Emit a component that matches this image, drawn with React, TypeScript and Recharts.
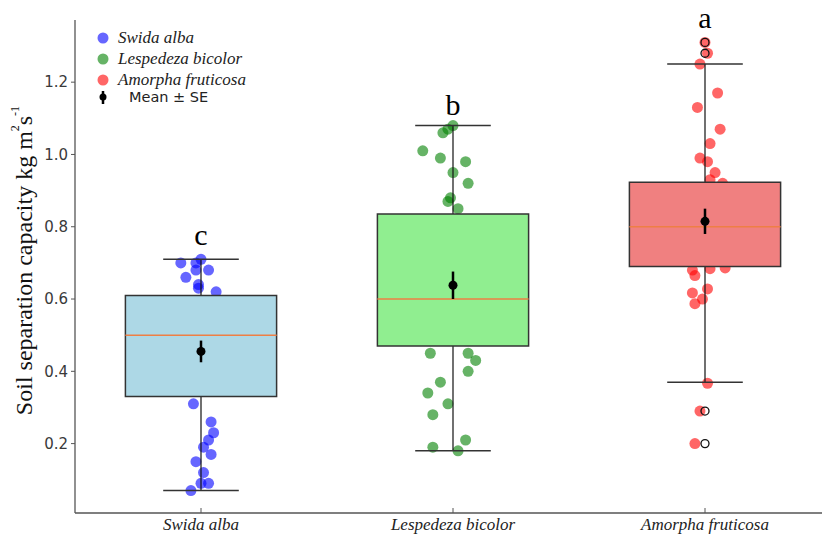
import React from "react"
import {
  ComposedChart,
  Scatter,
  XAxis,
  YAxis,
  ReferenceArea,
  ReferenceLine,
  ErrorBar,
  Legend,
} from "recharts"

const categories = ["Swida alba", "Lespedeza bicolor", "Amorpha fruticosa"]
const yTicks = [0.2, 0.4, 0.6, 0.8, 1.0, 1.2]

// box statistics per species
const q1 = [0.33, 0.47, 0.69]
const medians = [0.5, 0.6, 0.8]
const q3 = [0.61, 0.835, 0.923]
const whiskerLow = [0.07, 0.18, 0.37]
const whiskerHigh = [0.71, 1.08, 1.25]
const means = [0.455, 0.638, 0.815]
const meanSE = [0.03, 0.038, 0.035]
const letters = ["c", "b", "a"]
const letterY = [0.75, 1.11, 1.35]

// jittered observations [x position, value]
const swidaPts = [
  [0.92, 0.7], [1.0, 0.71], [0.98, 0.7], [0.98, 0.68], [1.03, 0.68], [0.94, 0.66],
  [0.99, 0.64], [0.99, 0.63], [1.06, 0.62], [0.97, 0.31], [1.04, 0.26], [1.05, 0.23],
  [1.03, 0.21], [1.01, 0.19], [1.04, 0.17], [0.98, 0.15], [1.01, 0.12], [1.0, 0.09],
  [1.03, 0.09], [0.96, 0.07],
]
const lespedezaPts = [
  [2.0, 1.08], [1.98, 1.07], [1.96, 1.06], [1.88, 1.01], [1.95, 0.99], [2.05, 0.98],
  [2.0, 0.95], [2.06, 0.92], [1.99, 0.88], [1.98, 0.87], [2.02, 0.85], [1.91, 0.45],
  [2.06, 0.45], [2.09, 0.43], [2.06, 0.4], [1.95, 0.37], [1.9, 0.34], [1.98, 0.31],
  [1.92, 0.28], [2.05, 0.21], [1.92, 0.19], [2.02, 0.18],
]
const amorphaPts = [
  [3.0, 1.31], [3.01, 1.28], [2.98, 1.25], [3.05, 1.17], [2.97, 1.13], [3.06, 1.07],
  [3.02, 1.03], [2.98, 0.99], [3.01, 0.98], [3.04, 0.95], [3.02, 0.93], [3.07, 0.92],
  [2.95, 0.68], [2.96, 0.665], [3.02, 0.684], [3.08, 0.686], [2.95, 0.617], [3.01, 0.628],
  [2.99, 0.6], [2.96, 0.587], [3.01, 0.367], [2.98, 0.29], [2.96, 0.2],
]
const amorphaOutliers = [1.31, 1.28, 0.29, 0.2]

const pointColors = ["#0000ff", "#008000", "#ff0000"]
const legendColors = ["#6666ff", "#66b366", "#ff6666"]
const boxColors = ["#add8e6", "#90ee90", "#f08080"]

const toPts = (arr: number[][]) => arr.map(([x, y]) => ({ x, y }))
const meanData = means.map((m, i) => ({ x: i + 1, y: m, se: meanSE[i] }))
const outlierData = amorphaOutliers.map((y) => ({ x: 3, y }))
const letterData = letters.map((l, i) => ({ x: i + 1, y: letterY[i], label: l }))

const dot = (color: string) => (p: any) => (
  <circle cx={p.cx} cy={p.cy} r={5.5} fill={color} fillOpacity={0.6} />
)

function XTick(props: any) {
  const { x, y, payload } = props
  return (
    <g>
      <line x1={x} x2={x} y1={y} y2={y - 5} stroke="#555" strokeWidth={1} />
      <text
        x={x}
        y={y + 17}
        textAnchor="middle"
        fontFamily="Liberation Serif"
        fontStyle="italic"
        fontSize={17}
        fill="#222"
      >
        {categories[payload.value - 1]}
      </text>
    </g>
  )
}

function YLabel(props: any) {
  const { viewBox } = props
  const cx = viewBox.x + 24
  const cy = viewBox.y + viewBox.height / 2 - 6
  return (
    <text
      x={cx}
      y={cy}
      transform={`rotate(-90 ${cx} ${cy})`}
      textAnchor="middle"
      dominantBaseline="central"
      fontFamily="Liberation Serif"
      fontSize={24}
      fill="#111"
    >
      Soil separation capacity kg m
      <tspan fontSize={12} dy={-9}>2</tspan>
      <tspan dy={9}>s</tspan>
      <tspan fontSize={12} dy={-9}>-1</tspan>
    </text>
  )
}

function LegendBox() {
  return (
    <svg width={200} height={85}>
      {categories.map((c, i) => (
        <g key={c}>
          <circle cx={8} cy={10 + i * 21} r={5.5} fill={legendColors[i]} />
          <text
            x={23}
            y={15 + i * 21}
            fontFamily="Liberation Serif"
            fontStyle="italic"
            fontSize={17}
            fill="#222"
          >
            {c}
          </text>
        </g>
      ))}
      <line x1={8} x2={8} y1={63} y2={76} stroke="#000" strokeWidth={2.5} />
      <circle cx={8} cy={69} r={3.5} fill="#000" />
      <text x={34} y={74} fontFamily="DejaVu Sans" fontSize={14.5} fill="#222">
        Mean ± SE
      </text>
    </svg>
  )
}

export default function App() {
  return (
    <div style={{ position: "absolute", left: 0, top: 0, width: 822, height: 535, overflow: "hidden", background: "#fff" }}>
      <ComposedChart width={840} height={535} margin={{ top: 20, right: 9, bottom: 0, left: 0 }}>
        <XAxis
          type="number"
          dataKey="x"
          domain={[0.5, 3.5]}
          ticks={[1, 2, 3]}
          height={22}
          tickSize={0}
          tickMargin={0}
          tick={<XTick />}
          axisLine={{ stroke: "#555", strokeWidth: 1.3 }}
        />
        <YAxis
          type="number"
          dataKey="y"
          domain={[0.008, 1.372]}
          ticks={yTicks}
          width={75}
          tickSize={4}
          tickMargin={3}
          tickFormatter={(v: number) => v.toFixed(1)}
          tick={{ fontFamily: "DejaVu Sans", fontSize: 15, fill: "#3a3a3a" }}
          tickLine={{ stroke: "#555" }}
          axisLine={{ stroke: "#555", strokeWidth: 1.3 }}
          label={{ content: <YLabel /> }}
        />
        <Legend
          layout="vertical"
          align="center"
          verticalAlign="middle"
          wrapperStyle={{ left: 95, top: 28, width: "auto" }}
          content={<LegendBox />}
        />
        <Scatter data={toPts(swidaPts)} shape={dot(pointColors[0])} isAnimationActive={false} zIndex={600} />
        <Scatter data={toPts(lespedezaPts)} shape={dot(pointColors[1])} isAnimationActive={false} zIndex={600} />
        <Scatter data={toPts(amorphaPts)} shape={dot(pointColors[2])} isAnimationActive={false} zIndex={600} />
        {categories.map((c, i) => (
          <ReferenceLine
            key={"wl" + c}
            segment={[{ x: i + 1, y: whiskerLow[i] }, { x: i + 1, y: q1[i] }]}
            stroke="#111"
            strokeWidth={1.2}
            zIndex={640}
          />
        ))}
        {categories.map((c, i) => (
          <ReferenceLine
            key={"wh" + c}
            segment={[{ x: i + 1, y: q3[i] }, { x: i + 1, y: whiskerHigh[i] }]}
            stroke="#111"
            strokeWidth={1.2}
            zIndex={640}
          />
        ))}
        {categories.map((c, i) => (
          <ReferenceLine
            key={"cl" + c}
            segment={[{ x: i + 0.85, y: whiskerLow[i] }, { x: i + 1.15, y: whiskerLow[i] }]}
            stroke="#333"
            strokeWidth={1.5}
            zIndex={640}
          />
        ))}
        {categories.map((c, i) => (
          <ReferenceLine
            key={"ch" + c}
            segment={[{ x: i + 0.85, y: whiskerHigh[i] }, { x: i + 1.15, y: whiskerHigh[i] }]}
            stroke="#333"
            strokeWidth={1.5}
            zIndex={640}
          />
        ))}
        {categories.map((c, i) => (
          <ReferenceArea
            key={"box" + c}
            x1={i + 0.7}
            x2={i + 1.3}
            y1={q1[i]}
            y2={q3[i]}
            fill={boxColors[i]}
            fillOpacity={1}
            stroke="#333"
            strokeWidth={1.5}
            zIndex={650}
          />
        ))}
        {categories.map((c, i) => (
          <ReferenceLine
            key={"med" + c}
            segment={[{ x: i + 0.7, y: medians[i] }, { x: i + 1.3, y: medians[i] }]}
            stroke="#ee7f45"
            strokeWidth={1.5}
            zIndex={660}
          />
        ))}
        <Scatter
          data={meanData}
          shape={(p: any) => <circle cx={p.cx} cy={p.cy} r={4.5} fill="#000" />}
          isAnimationActive={false}
          zIndex={700}
        >
          <ErrorBar dataKey="se" direction="y" width={0} stroke="#000" strokeWidth={2.5} zIndex={700} />
        </Scatter>
        <Scatter
          data={outlierData}
          shape={(p: any) => <circle cx={p.cx} cy={p.cy} r={4} fill="none" stroke="#111" strokeWidth={1.3} />}
          isAnimationActive={false}
          zIndex={710}
        />
        <Scatter
          data={letterData}
          shape={(p: any) => (
            <text x={p.cx} y={p.cy} textAnchor="middle" fontFamily="Liberation Serif" fontSize={30} fill="#000">
              {p.payload.label}
            </text>
          )}
          isAnimationActive={false}
          zIndex={720}
        />
      </ComposedChart>
    </div>
  )
}
